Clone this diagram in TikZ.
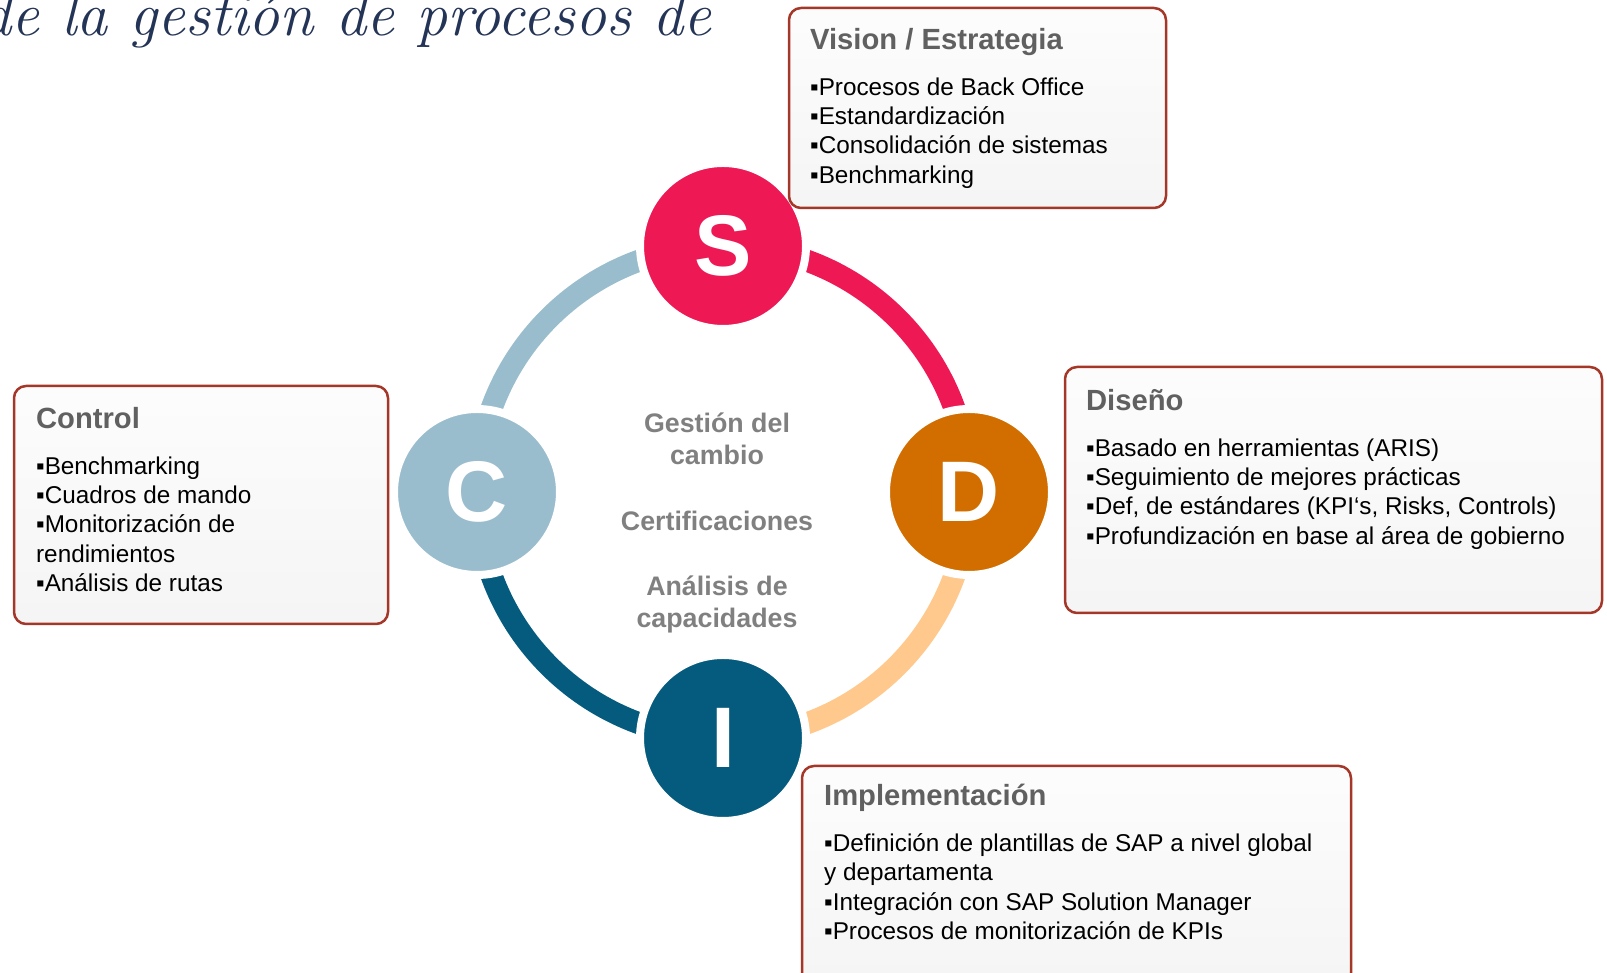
\documentclass[tikz,border=0pt]{standalone}
\usepackage{fontspec}
\setsansfont{Liberation Sans}
\renewcommand{\familydefault}{\sfdefault}
\usepackage{tikz}
\usetikzlibrary{positioning,backgrounds}
\definecolor{sred}{RGB}{238,24,84}
\definecolor{dorange}{RGB}{210,110,0}
\definecolor{dpeach}{RGB}{255,200,140}
\definecolor{iblue}{RGB}{4,91,125}
\definecolor{cblue}{RGB}{154,189,206}
\definecolor{hubgray}{RGB}{128,128,128}
\definecolor{ttlgray}{RGB}{96,96,96}
\definecolor{brd}{RGB}{165,55,40}
\definecolor{ink}{RGB}{36,52,86}

\begin{document}
\begin{tikzpicture}[x=0.5pt,y=0.5pt,
phase/.style={circle, draw=white, line width=4pt, minimum size=83pt, inner sep=0pt,
    text=white, font=\fontsize{43}{43}\selectfont\bfseries},
band/.style={line width=11pt},
box/.style={draw=brd, line width=1.25pt, rounded corners=6pt, top color=black!1,
    bottom color=black!4, inner sep=0pt},
ttl/.style={anchor=west, inner sep=0pt, text height=0.75em, text depth=0.2em,
    text=ttlgray, font=\fontsize{14.6}{17}\selectfont\bfseries},
lst/.style={align=left, inner sep=0pt, font=\fontsize{12.15}{14.65}\selectfont}]
\useasboundingbox (0,0) rectangle (1607,973);
\node[anchor=base east, inner sep=0pt, text=ink,
  font=\rmfamily\itshape\fontsize{31}{31}\selectfont] (heading) at (712,937) {de la gestión de procesos de};
\node[phase, fill=sred] (S) at (723,727) {S};
\node[phase, fill=dorange] (D) at (969,481) {D};
\node[phase, fill=iblue] (I) at (723,235) {I};
\node[phase, fill=cblue] (C) at (477,481) {C};
\begin{scope}[on background layer]
\draw[band, sred] (S.center) arc[start angle=90, end angle=0, radius=123pt];
\draw[band, dpeach] (D.center) arc[start angle=0, end angle=-90, radius=123pt];
\draw[band, iblue] (I.center) arc[start angle=-90, end angle=-180, radius=123pt];
\draw[band, cblue] (C.center) arc[start angle=180, end angle=90, radius=123pt];
\end{scope}
\node[align=center, inner sep=0pt, text=hubgray, font=\fontsize{13.4}{16.3}\selectfont\bfseries]
  (hub) at (717,450) {Gestión del\\cambio\\\mbox{}\\Certificaciones\\\mbox{}\\Análisis de\\capacidades};

\node[box, minimum width=188.5pt, minimum height=100pt] (vis) at (977.5,865) {};
\node[ttl] (vist) at ([shift={(11pt,-18.5pt)}]vis.north west) {Vision / Estrategia};
\node[lst, below right=16.8pt and 0pt of vist.west] (visl) {▪Procesos de Back Office\\▪Estandardización\\▪Consolidación de sistemas\\▪Benchmarking};

\node[box, minimum width=268.5pt, minimum height=123pt] (dis) at (1333.5,483) {};
\node[ttl] (dist) at ([shift={(11pt,-19.5pt)}]dis.north west) {Diseño};
\node[lst, below right=16.8pt and 0pt of dist.west] (disl) {▪Basado en herramientas (ARIS)\\▪Seguimiento de mejores prácticas\\▪Def, de estándares (KPI‘s, Risks, Controls)\\▪Profundización en base al área de gobierno};

\node[box, minimum width=274.5pt, minimum height=109.5pt] (imp) at (1076.5,97.5) {};
\node[ttl] (impt) at ([shift={(11.5pt,-17.5pt)}]imp.north west) {Implementación};
\node[lst, below right=16.8pt and 0pt of impt.west] (impl) {▪Definición de plantillas de SAP a nivel global\\y departamenta\\▪Integración con SAP Solution Manager\\▪Procesos de monitorización de KPIs};

\node[box, minimum width=187pt, minimum height=119pt] (ctl) at (201,468) {};
\node[ttl] (ctlt) at ([shift={(11.5pt,-19pt)}]ctl.north west) {Control};
\node[lst, below right=16.8pt and 0pt of ctlt.west] (ctll) {▪Benchmarking\\▪Cuadros de mando\\▪Monitorización de\\rendimientos\\▪Análisis de rutas};
\end{tikzpicture}
\end{document}
